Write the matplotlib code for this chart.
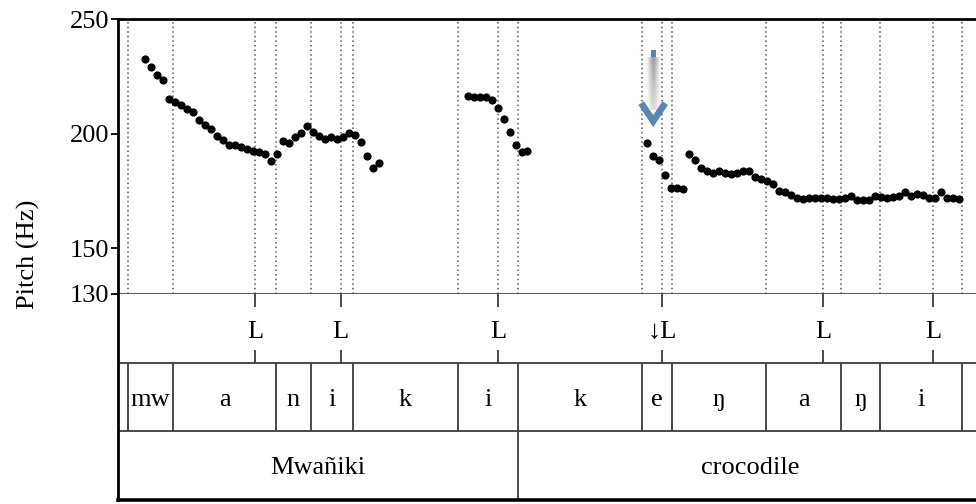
import numpy as np
import matplotlib.pyplot as plt

plt.rcParams['font.family'] = ['Liberation Serif', 'DejaVu Serif']

# pitch track, 10 ms frames (time in s, f0 in Hz)
t_seg1 = [0.045, 0.055, 0.065, 0.075, 0.085, 0.095, 0.105, 0.115, 0.125, 0.135,
          0.145, 0.155, 0.165, 0.175, 0.185, 0.195, 0.205, 0.215, 0.225, 0.235,
          0.245, 0.255, 0.265, 0.275, 0.285, 0.295, 0.305, 0.315, 0.325, 0.335,
          0.345, 0.355, 0.365, 0.375, 0.385, 0.395, 0.405, 0.415, 0.425, 0.435]
f0_seg1 = [232.5, 229.1, 225.4, 223.4, 215.2, 214.0, 212.3, 210.8, 209.3, 206.1,
           203.8, 202.1, 199.1, 197.1, 195.0, 195.0, 194.2, 193.3, 192.4, 191.8,
           191.2, 188.0, 190.9, 196.6, 195.9, 198.4, 200.3, 203.5, 200.9, 199.1,
           197.7, 198.7, 197.7, 198.4, 200.3, 199.6, 196.2, 190.0, 185.0, 187.0]

t_seg2 = [0.583, 0.593, 0.603, 0.613, 0.623, 0.633, 0.643, 0.653, 0.663, 0.673, 0.682]
f0_seg2 = [216.2, 215.9, 215.9, 215.9, 214.8, 211.3, 206.4, 200.6, 195.2, 191.8, 192.5]

t_seg3 = [0.882, 0.892, 0.902, 0.912, 0.922, 0.932, 0.942]
f0_seg3 = [195.7, 190.4, 188.4, 182.0, 176.2, 176.1, 175.9]

t_seg4 = [0.952, 0.962, 0.972, 0.982, 0.992, 1.002, 1.012, 1.022, 1.032, 1.042,
          1.052, 1.062, 1.072, 1.082, 1.092, 1.102, 1.112, 1.122, 1.132, 1.142,
          1.152, 1.162, 1.172, 1.182, 1.192, 1.202, 1.212, 1.222, 1.232, 1.242,
          1.252, 1.262, 1.272, 1.282, 1.292, 1.302, 1.312, 1.322, 1.332, 1.342,
          1.352, 1.362, 1.371, 1.381, 1.391, 1.401]
f0_seg4 = [190.9, 188.4, 185.0, 183.8, 182.6, 183.6, 182.7, 182.3, 182.6, 183.6,
           183.6, 181.1, 180.0, 179.1, 177.9, 175.0, 174.4, 173.2, 172.1, 171.5,
           171.8, 172.1, 172.1, 171.8, 171.5, 171.5, 172.1, 172.9, 171.2, 170.9,
           170.9, 172.7, 172.4, 172.1, 172.4, 172.9, 174.7, 172.7, 173.6, 173.2,
           171.8, 171.8, 174.4, 171.8, 171.8, 171.5]

# annotation tiers
tone_times = [0.228, 0.371, 0.633, 0.907, 1.175, 1.359]
tones = ['L', 'L', 'L', '↓L', 'L', 'L']

phone_bounds = [0.016, 0.092, 0.263, 0.322, 0.391, 0.566, 0.666,
                0.873, 0.923, 1.080, 1.205, 1.270, 1.406]
phones = ['mw', 'a', 'n', 'i', 'k', 'i', 'k', 'e', 'ŋ', 'a', 'ŋ', 'i']

word_bounds = [0.0, 0.666, 1.442]
words = ['Mwañiki', 'crocodile']

y_ticks = [130, 150, 200, 250]

W, H = 976, 504
fig = plt.figure(figsize=(W / 100, H / 100), dpi=100)
x0, xw = 118 / W, 872 / W
ax = fig.add_axes([x0, (H - 294) / H, xw, 275 / H])
tier = fig.add_axes([x0, (H - 500) / H, xw, 206 / H], sharex=ax)

fs = 19
line_c = '#3a3a3a'

# dotted guides at segment boundaries and tone targets
for t in sorted(set(phone_bounds + tone_times)):
    ax.axvline(t, color='#555555', lw=1.1, ls=(0, (1, 2)), zorder=1)

for t, f in [(t_seg1, f0_seg1), (t_seg2, f0_seg2), (t_seg3, f0_seg3), (t_seg4, f0_seg4)]:
    ax.plot(t, f, 'o', color='black', ms=5.9, mec='none', zorder=3)

# downstep arrow over the 'e'
xa = 0.892
bar = np.zeros((40, 24, 4))
u = np.linspace(-1, 1, 24)
v = np.linspace(1, 0.35, 40)[:, None]
bar[..., :3] = 0.5
bar[..., 3] = 0.75 * np.exp(-(u / 0.55) ** 2)[None, :] * v
ax.imshow(bar, extent=[xa - 0.014, xa + 0.014, 210.5, 233.2], aspect='auto',
          origin='upper', interpolation='bilinear', zorder=2)
ax.add_patch(plt.Rectangle((xa - 0.0045, 233.6), 0.009, 3.0, color='#5b86b4', lw=0, zorder=4))
ax.plot([xa - 0.020, xa, xa + 0.020], [213.3, 205.4, 213.3], color='#5b86b4', lw=4.8,
        solid_joinstyle='miter', solid_capstyle='butt', zorder=4)

ax.set_xlim(0, 872 / 600)
ax.set_ylim(130, 250)
ax.set_yticks(y_ticks)
ax.set_yticklabels([str(v) for v in y_ticks], fontsize=fs)
ax.tick_params(axis='y', direction='out', length=5, width=1.3, pad=1)
ax.set_xticks(phone_bounds)
ax.tick_params(axis='x', direction='out', length=2.5, width=0.9, labelbottom=False, colors='#555555')
ax.spines['left'].set_linewidth(2)
ax.spines['top'].set_linewidth(2)
ax.spines['bottom'].set_linewidth(1.2)
ax.spines['bottom'].set_color(line_c)
ax.spines['right'].set_visible(False)

# tiers: 2-3 tones, 1-2 phones, 0-1 words
tier.set_ylim(0, 3)
tier.axhline(2, color=line_c, lw=1.3)
tier.axhline(1, color=line_c, lw=1.3)
tier.vlines(tone_times, 2.81, 3, color=line_c, lw=1.3)
tier.vlines(tone_times, 2, 2.18, color=line_c, lw=1.3)
for t, lab in zip(tone_times, tones):
    tier.text(t, 2.44, lab, ha='center', va='center', fontsize=fs)

tier.vlines(phone_bounds, 1, 2, color=line_c, lw=1.3)
for a, b, lab in zip(phone_bounds[:-1], phone_bounds[1:], phones):
    tier.text((a + b) / 2, 1.45, lab, ha='center', va='center', fontsize=fs)

tier.vlines(word_bounds[1:], 0, 1, color=line_c, lw=1.3)
for a, b, lab in zip(word_bounds[:-1], word_bounds[1:], words):
    tier.text((a + b) / 2, 0.47, lab, ha='center', va='center', fontsize=fs)

tier.set_yticks([])
tier.tick_params(axis='x', length=0, labelbottom=False)
tier.spines['top'].set_visible(False)
tier.spines['right'].set_visible(False)
tier.spines['left'].set_linewidth(2)
tier.spines['bottom'].set_linewidth(2.6)

fig.text(28 / W, 1 - 254 / H, 'Pitch (Hz)', rotation=90, ha='center', va='center', fontsize=fs)

fig.savefig('out.png', dpi=100)
